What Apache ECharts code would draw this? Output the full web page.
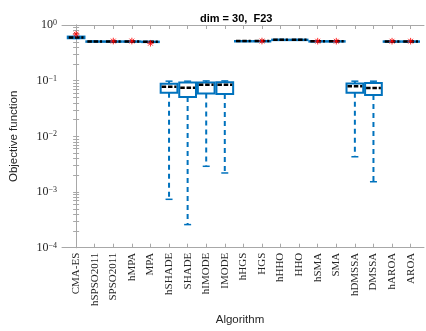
<!DOCTYPE html>
<html>
<head>
<meta charset="utf-8">
<script src="https://cdn.jsdelivr.net/npm/echarts@6/dist/echarts.min.js"></script>
<style>html,body{margin:0;padding:0;background:#fff;}#c{width:426px;height:331px;}</style>
</head>
<body>
<div id="c"></div>
<script>
// ---- data ----
const categories = ['CMA-ES','hSPSO2011','SPSO2011','hMPA','MPA','hSHADE','SHADE','hIMODE','IMODE','hHGS','HGS','hHHO','HHO','hSMA','SMA','hDMSSA','DMSSA','hAROA','AROA'];
const whiskerLow = [0.575, 0.506, 0.506, 0.506, 0.500, 7.4e-4, 2.6e-4, 2.9e-3, 2.2e-3, 0.513, 0.513, 0.543, 0.543, 0.510, 0.510, 4.3e-3, 1.53e-3, 0.506, 0.506];
const q1Values    = [0.578, 0.507, 0.507, 0.507, 0.501, 0.0608, 0.0511, 0.0591, 0.0577, 0.514, 0.514, 0.544, 0.544, 0.511, 0.511, 0.0608, 0.0554, 0.507, 0.507];
const medianValues= [0.597, 0.508, 0.508, 0.508, 0.502, 0.0776, 0.0745, 0.0842, 0.0842, 0.515, 0.515, 0.545, 0.545, 0.512, 0.512, 0.0798, 0.0736, 0.508, 0.508];
const q3Values    = [0.620, 0.509, 0.509, 0.509, 0.503, 0.0877, 0.0931, 0.0924, 0.0939, 0.516, 0.516, 0.546, 0.546, 0.513, 0.513, 0.0888, 0.0913, 0.509, 0.509];
const whiskerHigh = [0.622, 0.510, 0.510, 0.510, 0.504, 0.098, 0.098, 0.099, 0.099, 0.517, 0.517, 0.547, 0.547, 0.514, 0.514, 0.098, 0.098, 0.510, 0.510];
const outlierIndex = [0, 2, 3, 4, 10, 13, 14, 17, 18];
const outlierValues = [0.686, 0.515, 0.515, 0.470, 0.515, 0.512, 0.512, 0.512, 0.512];
const yMajorTicks = [1e-4, 1e-3, 1e-2, 1e-1, 1];
const titleText = 'dim = 30,  F23';
const xName = 'Algorithm';
const yName = 'Objective function';

// ---- build ----
const boxData = categories.map((c, i) => [i, whiskerLow[i], q1Values[i], medianValues[i], q3Values[i], whiskerHigh[i]]);
const outData = outlierIndex.map((i, k) => [i, outlierValues[k]]);
const yMinorTicks = [];
for (let e = -4; e < 0; e++) for (let m = 2; m <= 9; m++) yMinorTicks.push(+(m * Math.pow(10, e)).toPrecision(3));
const yAllTicks = yMajorTicks.concat(yMinorTicks);
const xTickVals = categories.map((c, i) => i);

const BLUE = '#0072BD';
const AXC = '#a8a8a8';
const serif = 'Liberation Serif';
const sans = 'Liberation Sans';

function supLabel(v) {
  const e = Math.round(Math.log10(v));
  return '{b|10}{s|' + (e < 0 ? '\u2212' + (-e) : e) + '}';
}

const xCommon = {
  type: 'value', min: -0.76, max: 18.72,
  splitLine: { show: false },
  axisLine: { show: true, lineStyle: { color: AXC, width: 1 } },
  axisTick: { show: true, inside: true, length: 4, customValues: xTickVals, lineStyle: { color: AXC } }
};
const yCommon = {
  type: 'log', logBase: 10, min: 1e-4, max: 1,
  splitLine: { show: false },
  axisLine: { show: true, lineStyle: { color: AXC, width: 1 } },
  axisTick: { show: true, inside: true, length: 3, customValues: yAllTicks, lineStyle: { color: AXC } }
};

const option = {
  animation: false,
  backgroundColor: '#fff',
  title: {
    text: titleText, left: 195, top: 8,
    textStyle: { fontFamily: sans, fontSize: 11, fontWeight: 'bold', color: '#000' }
  },
  grid: { left: 60, right: 2, top: 25, bottom: 79, containLabel: false },
  xAxis: [
    Object.assign({}, xCommon, {
      position: 'bottom',
      name: xName, nameLocation: 'middle', nameGap: 63,
      nameTextStyle: { fontFamily: sans, fontSize: 11.5, color: '#262626', padding: [0, 6, 0, 0] },
      axisLabel: {
        show: true, customValues: xTickVals, rotate: 90, margin: 5,
        fontFamily: serif, fontSize: 11, color: '#262626',
        formatter: v => categories[Math.round(v)] || ''
      }
    }),
    Object.assign({}, xCommon, { position: 'top', axisLabel: { show: false } })
  ],
  yAxis: [
    Object.assign({}, yCommon, {
      position: 'left',
      name: yName, nameLocation: 'middle', nameGap: 42,
      nameTextStyle: { fontFamily: sans, fontSize: 11.5, color: '#262626' },
      axisLabel: {
        show: true, customValues: yMajorTicks, margin: 5,
        formatter: supLabel,
        rich: {
          b: { fontFamily: serif, fontSize: 12, color: '#262626' },
          s: { fontFamily: serif, fontSize: 8, color: '#262626', verticalAlign: 'top' }
        }
      }
    }),
    Object.assign({}, yCommon, { position: 'right', axisLabel: { show: false } })
  ],
  series: [
    {
      type: 'custom', xAxisIndex: 0, yAxisIndex: 0,
      data: boxData,
      encode: { x: 0, y: [1, 2, 3, 4, 5] },
      renderItem: function (params, api) {
        const x = api.value(0);
        const pMin = api.coord([x, api.value(1)]);
        const pQ1 = api.coord([x, api.value(2)]);
        const pMed = api.coord([x, api.value(3)]);
        const pQ3 = api.coord([x, api.value(4)]);
        const pMax = api.coord([x, api.value(5)]);
        const band = api.size([1, 0], [x, 0.1])[0];
        const cx = pMed[0];
        const hw = band * 0.45;
        const cw = 3.5;
        const dashed = { stroke: BLUE, lineWidth: 2, lineDash: [5, 4], fill: null };
        const solid = { stroke: BLUE, lineWidth: 1.5, fill: null };
        const children = [];
        if (pMax[1] < pQ3[1] - 0.5) children.push({ type: 'line', shape: { x1: cx, y1: pQ3[1], x2: cx, y2: pMax[1] }, style: dashed });
        if (pMin[1] > pQ1[1] + 0.5) children.push({ type: 'line', shape: { x1: cx, y1: pQ1[1], x2: cx, y2: pMin[1] }, style: dashed });
        children.push({ type: 'line', shape: { x1: cx - cw, y1: pMax[1], x2: cx + cw, y2: pMax[1] }, style: solid });
        children.push({ type: 'line', shape: { x1: cx - cw, y1: pMin[1], x2: cx + cw, y2: pMin[1] }, style: solid });
        children.push({ type: 'rect', shape: { x: cx - hw, y: pQ3[1], width: 2 * hw, height: Math.max(pQ1[1] - pQ3[1], 0.5) },
          style: { stroke: BLUE, lineWidth: 2, fill: null } });
        children.push({ type: 'line', shape: { x1: cx - hw + 1, y1: pMed[1], x2: cx + hw - 1, y2: pMed[1] },
          style: { stroke: '#000', lineWidth: 2.5, lineDash: [4.5, 1.8], fill: null } });
        return { type: 'group', children: children };
      }
    },
    {
      type: 'custom', xAxisIndex: 0, yAxisIndex: 0,
      data: outData,
      encode: { x: 0, y: 1 },
      renderItem: function (params, api) {
        const p = api.coord([api.value(0), api.value(1)]);
        const r = 3.3, d = r * 0.72;
        const st = { stroke: 'rgba(255,0,0,0.85)', lineWidth: 1, fill: null };
        return { type: 'group', children: [
          { type: 'line', shape: { x1: p[0], y1: p[1] - r, x2: p[0], y2: p[1] + r }, style: st },
          { type: 'line', shape: { x1: p[0] - r, y1: p[1], x2: p[0] + r, y2: p[1] }, style: st },
          { type: 'line', shape: { x1: p[0] - d, y1: p[1] - d, x2: p[0] + d, y2: p[1] + d }, style: st },
          { type: 'line', shape: { x1: p[0] - d, y1: p[1] + d, x2: p[0] + d, y2: p[1] - d }, style: st }
        ] };
      }
    }
  ]
};

const chart = echarts.init(document.getElementById('c'), null, { renderer: 'canvas' });
chart.setOption(option);
</script>
</body>
</html>
